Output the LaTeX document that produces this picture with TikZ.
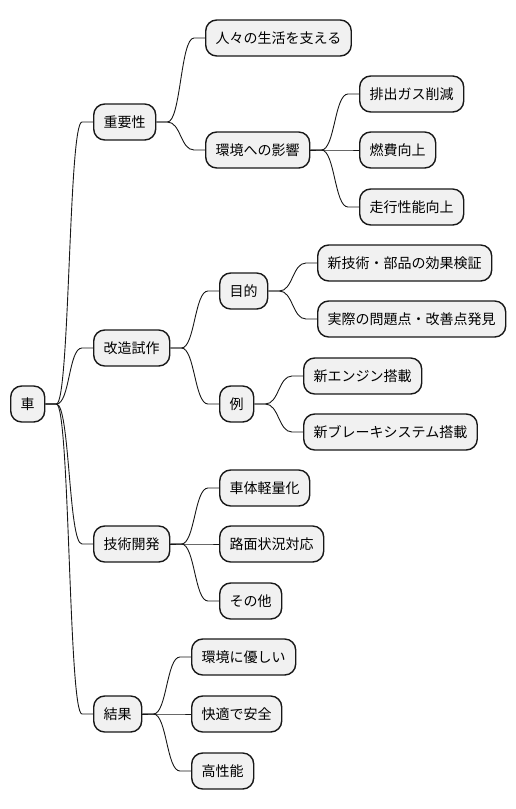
\documentclass[tikz,border=0pt]{standalone}
\usepackage{fontspec}
\setmainfont{Noto Sans CJK JP}
\usetikzlibrary{calc}
\definecolor{boxfill}{HTML}{F1F1F1}
\definecolor{boxline}{HTML}{181818}
\tikzset{
  mmbox/.style={draw=boxline, fill=boxfill, line width=1.4pt, rounded corners=11pt,
    minimum height=36pt, inner xsep=10pt, inner ysep=0pt, anchor=west,
    font=\fontsize{14pt}{16pt}\selectfont, text=black},
  mmline/.style={draw=boxline, line width=0.9pt}
}
\newcommand\mmlink[2]{\draw[mmline] (#1.east) -- ++(11,0) .. controls +(13.5,0) and +(-13.5,0) .. ($(#2.west)+(-11,0)$) -- (#2.west);}
\begin{document}
\begin{tikzpicture}[x=1pt,y=-1pt]
\useasboundingbox (0,0) rectangle (516,809);
% root
\node[mmbox] (root) at (10,404) {車};
% level 1
\node[mmbox] (imp) at (93,122) {重要性};
\node[mmbox] (kai) at (93,348) {改造試作};
\node[mmbox] (gij) at (93,544) {技術開発};
\node[mmbox] (kek) at (93,714) {結果};
% 重要性
\node[mmbox] (hito) at (205,38) {人々の生活を支える};
\node[mmbox] (kan) at (205,150) {環境への影響};
\node[mmbox] (hai) at (359,94) {排出ガス削減};
\node[mmbox] (nen) at (359,150) {燃費向上};
\node[mmbox] (sou) at (359,207) {走行性能向上};
% 改造試作
\node[mmbox] (mok) at (219,291) {目的};
\node[mmbox] (rei) at (219,404) {例};
\node[mmbox] (shin) at (317,263) {新技術・部品の効果検証};
\node[mmbox] (jis) at (317,319) {実際の問題点・改善点発見};
\node[mmbox] (eng) at (303,376) {新エンジン搭載};
\node[mmbox] (bra) at (303,432) {新ブレーキシステム搭載};
% 技術開発
\node[mmbox] (sha) at (219,488) {車体軽量化};
\node[mmbox] (rom) at (219,544) {路面状況対応};
\node[mmbox] (son) at (219,601) {その他};
% 結果
\node[mmbox] (kank) at (191,657) {環境に優しい};
\node[mmbox] (kai2) at (191,714) {快適で安全};
\node[mmbox] (kou) at (191,771) {高性能};
% links
\mmlink{root}{imp}
\mmlink{root}{kai}
\mmlink{root}{gij}
\mmlink{root}{kek}
\mmlink{imp}{hito}
\mmlink{imp}{kan}
\mmlink{kan}{hai}
\mmlink{kan}{nen}
\mmlink{kan}{sou}
\mmlink{kai}{mok}
\mmlink{kai}{rei}
\mmlink{mok}{shin}
\mmlink{mok}{jis}
\mmlink{rei}{eng}
\mmlink{rei}{bra}
\mmlink{gij}{sha}
\mmlink{gij}{rom}
\mmlink{gij}{son}
\mmlink{kek}{kank}
\mmlink{kek}{kai2}
\mmlink{kek}{kou}
\end{tikzpicture}
\end{document}
